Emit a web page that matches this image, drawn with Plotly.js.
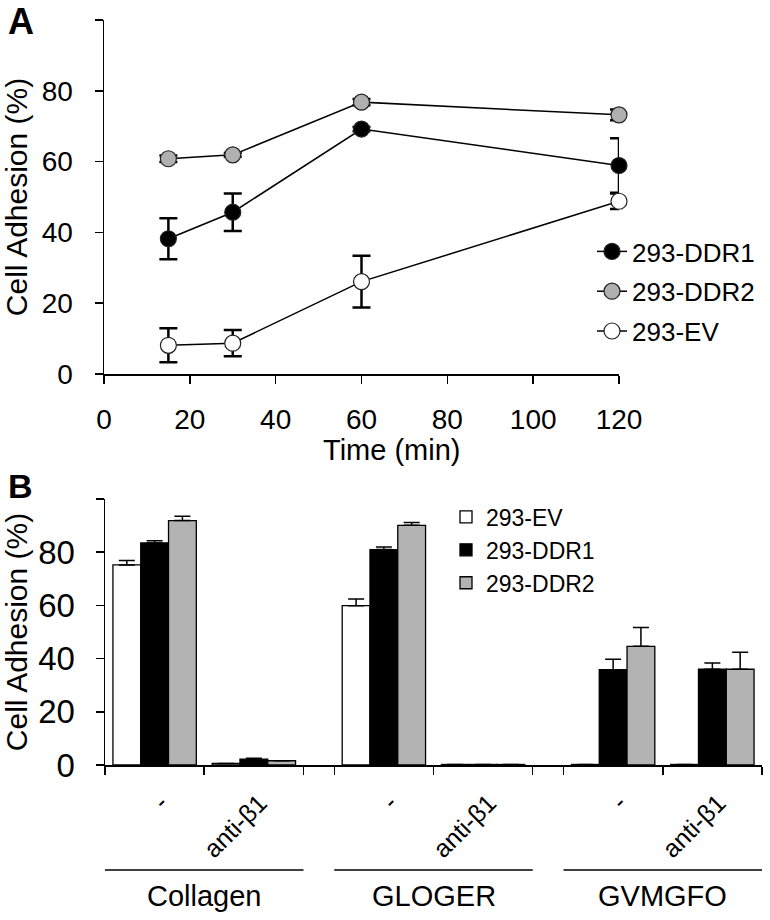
<!DOCTYPE html>
<html><head><meta charset="utf-8">
<script src="https://cdn.plot.ly/plotly-3.0.1.min.js"></script>
<style>html,body{margin:0;padding:0;background:#fff}#chart{width:770px;height:920px}</style>
</head><body><div id="chart"></div>
<script>
// ---------- Panel A data (cell adhesion vs time) ----------
const timeMin = [15, 30, 60, 120];
const ddr1Time = [38.2, 45.7, 69.2, 58.9];
const ddr1TimeErr = [5.8, 5.3, 0.6, 7.7];
const ddr2Time = [60.8, 61.9, 76.8, 73.2];
const ddr2TimeErr = [0.9, 0.5, 0.9, 1.5];
const evTime = [8.1, 8.7, 26.1, 48.8];
const evTimeErr = [4.8, 3.7, 7.3, 2.2];
const xTicksA = [0, 20, 40, 60, 80, 100, 120];
const yTicksA = [0, 20, 40, 60, 80, 100];
const yTickTextA = ['0', '20', '40', '60', '80', ''];

// ---------- Panel B data (adhesion per substrate / treatment) ----------
const substrates = ['Collagen', 'GLOGER', 'GVMGFO'];
const treatments = ['-', 'anti-β1'];
// order: Collagen -, Collagen anti, GLOGER -, GLOGER anti, GVMGFO -, GVMGFO anti
const evBar = [75.2, 0.6, 59.9, 0.2, 0.2, 0.2];
const evBarErr = [1.7, null, 2.5, null, null, null];
const ddr1Bar = [83.5, 2.2, 81.0, 0.2, 35.8, 36.0];
const ddr1BarErr = [0.8, 0.3, 1.0, null, 4.0, 2.3];
const ddr2Bar = [91.9, 1.6, 90.1, 0.2, 44.6, 36.0];
const ddr2BarErr = [1.6, null, 1.1, null, 7.1, 6.4];
const yTicksB = [0, 20, 40, 60, 80, 100];
const yTickTextB = ['0', '20', '40', '60', '80', ''];

// ---------- layout helpers ----------
const W = 770, H = 920;
const px = v => v / W;            // horizontal pixel -> paper
const py = v => 1 - v / H;        // vertical pixel -> paper
const FONT = 'Liberation Sans, Arial, Helvetica, sans-serif';
const GRAY = '#b3b3b3';
const GAP = 0.31;                 // spacing between substrate groups (category units)

const catX = [], catText = [], boundaries = [];
substrates.forEach((s, g) => {
  const base = g * (treatments.length + GAP);
  treatments.forEach((t, i) => { catX.push(base + i + 0.5); catText.push(t); });
  for (let i = 0; i <= treatments.length; i++) boundaries.push(base + i);
});
const rangeB = [0, substrates.length * treatments.length + (substrates.length - 1) * GAP];

function lineTrace(name, y, err, fill) {
  return {
    type: 'scatter', mode: 'lines+markers', name: name, x: timeMin, y: y,
    xaxis: 'x', yaxis: 'y', legend: 'legend', legendgroup: name, cliponaxis: false,
    line: {color: '#000', width: 1.5},
    marker: {size: 16, color: fill, line: {color: '#222', width: 1.2}},
    error_y: {type: 'data', array: err, visible: true, color: '#000', thickness: 2.5, width: 9}
  };
}
function barTrace(name, y, err, fill) {
  return {
    type: 'bar', name: name, x: catX, y: y, xaxis: 'x2', yaxis: 'y2', legend: 'legend2',
    marker: {color: fill, line: {color: '#000', width: 1.3}},
    error_y: {type: 'data', symmetric: false, array: err, arrayminus: err.map(() => 0),
              visible: true, color: '#000', thickness: 1.5, width: 8}
  };
}

const data = [
  lineTrace('293-DDR1', ddr1Time, ddr1TimeErr, '#000000'),
  lineTrace('293-DDR2', ddr2Time, ddr2TimeErr, '#b0b0b0'),
  lineTrace('293-EV', evTime, evTimeErr, '#ffffff'),
  barTrace('293-EV', evBar, evBarErr, '#ffffff'),
  barTrace('293-DDR1', ddr1Bar, ddr1BarErr, '#000000'),
  barTrace('293-DDR2', ddr2Bar, ddr2BarErr, GRAY)
];

const axisCommon = {
  showgrid: false, zeroline: false, showline: true, linecolor: '#000', linewidth: 1.5,
  ticks: 'outside', ticklen: 8, tickwidth: 1.5, tickcolor: '#000'
};

const shapes = [], annotations = [];
substrates.forEach((s, g) => {
  const base = g * (treatments.length + GAP);
  shapes.push({type: 'line', xref: 'x2', yref: 'paper', x0: base, x1: base + treatments.length,
               y0: py(870), y1: py(870), line: {color: '#000', width: 1.5}});
  annotations.push({text: s, xref: 'x2', yref: 'paper', x: base + treatments.length / 2,
                    y: py(896), xanchor: 'center', yanchor: 'middle', showarrow: false,
                    font: {size: 29, color: '#000', family: FONT}});
});
annotations.push({text: '<b>A</b>', xref: 'paper', yref: 'paper', x: px(6), y: py(22),
                  xanchor: 'left', yanchor: 'middle', showarrow: false,
                  font: {size: 36, color: '#000', family: FONT}});
annotations.push({text: '<b>B</b>', xref: 'paper', yref: 'paper', x: px(6), y: py(486),
                  xanchor: 'left', yanchor: 'middle', showarrow: false,
                  font: {size: 34, color: '#000', family: FONT}});
annotations.push({text: 'Time (min)', xref: 'paper', yref: 'paper', x: px(392), y: py(450),
                  xanchor: 'center', yanchor: 'middle', showarrow: false,
                  font: {size: 29, color: '#000', family: FONT}});

const layout = {
  width: W, height: H, margin: {l: 0, r: 0, t: 0, b: 0},
  paper_bgcolor: '#fff', plot_bgcolor: '#fff',
  font: {family: FONT, color: '#000', size: 26},
  showlegend: true,
  barmode: 'group', bargap: 0.16, bargroupgap: 0,
  xaxis: Object.assign({}, axisCommon, {
    domain: [px(104), px(619)], anchor: 'y', range: [0, 120],
    tickmode: 'array', tickvals: xTicksA, tickfont: {size: 28}, ticklabelstandoff: 12
  }),
  yaxis: Object.assign({}, axisCommon, {
    domain: [py(374), py(20)], anchor: 'x', range: [0, 100],
    tickmode: 'array', tickvals: yTicksA, ticktext: yTickTextA, tickfont: {size: 28},
    ticklabelstandoff: 16,
    title: {text: 'Cell Adhesion (%)', font: {size: 30}, standoff: 8}
  }),
  xaxis2: Object.assign({}, axisCommon, {
    domain: [px(105), px(762)], anchor: 'y2', range: rangeB,
    tickmode: 'array', tickvals: catX, ticktext: catText, ticks: '',
    tickangle: -45, tickfont: {size: 25}, ticklabelstandoff: 12, ticklabelshift: 6,
    minor: {tickmode: 'array', tickvals: boundaries, ticks: 'outside', ticklen: 8,
            tickwidth: 1.5, tickcolor: '#000', showgrid: false}
  }),
  yaxis2: Object.assign({}, axisCommon, {
    domain: [py(765), py(499)], anchor: 'x2', range: [0, 100],
    tickmode: 'array', tickvals: yTicksB, ticktext: yTickTextB, tickfont: {size: 33},
    ticklabelstandoff: 14,
    title: {text: 'Cell Adhesion (%)', font: {size: 30}, standoff: 8}
  }),
  legend: {x: px(592), y: py(228), xanchor: 'left', yanchor: 'top',
           bgcolor: 'rgba(0,0,0,0)', font: {size: 26}, tracegroupgap: 3, itemwidth: 30},
  legend2: {x: px(446), y: py(550), xanchor: 'left', yanchor: 'middle',
            bgcolor: 'rgba(0,0,0,0)', font: {size: 23}, itemwidth: 30},
  shapes: shapes, annotations: annotations
};

Plotly.newPlot('chart', data, layout, {staticPlot: true, displayModeBar: false});
</script></body></html>
